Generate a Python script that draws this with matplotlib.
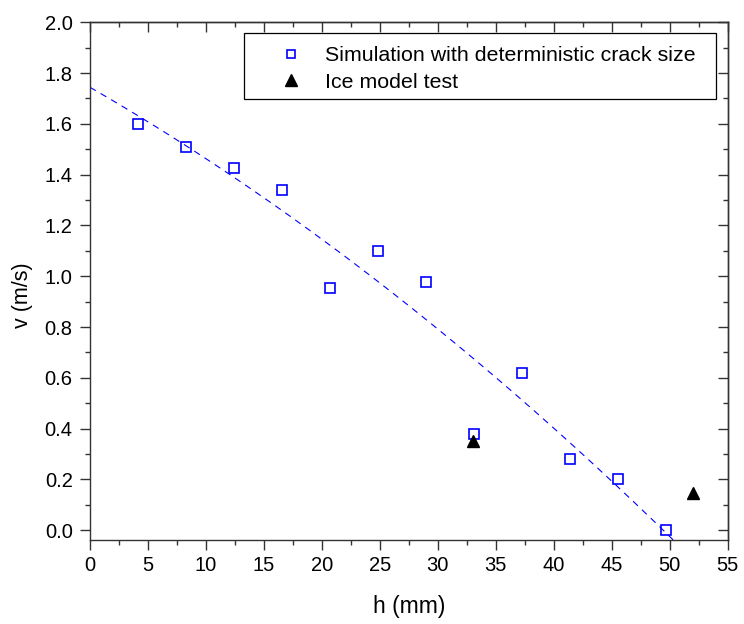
import numpy as np
import matplotlib
matplotlib.use("Agg")
import matplotlib.pyplot as plt
from matplotlib.ticker import MultipleLocator, FormatStrFormatter
from matplotlib.lines import Line2D
from matplotlib.patches import Rectangle

plt.rcParams['font.family'] = ['Liberation Sans', 'DejaVu Sans']

# Simulation with deterministic crack size
sim_h = [4.1, 8.3, 12.45, 16.55, 20.7, 24.85, 29.0, 33.15, 37.3, 41.4, 45.55, 49.7]
sim_v = [1.60, 1.51, 1.428, 1.339, 0.955, 1.10, 0.979, 0.378, 0.618, 0.281, 0.20, 0.0]

# Ice model test
ice_h = [33.0, 52.0]
ice_v = [0.35, 0.148]

# Quadratic trend line coefficients (highest power first)
fit_coeffs = [-0.000182, -0.02628, 1.744]

labels = ['Simulation with deterministic crack size', 'Ice model test']

TICK_FS = 14.5
LEG_FS = 15.4
XLAB_FS = 16.5
YLAB_FS = 15.5
W, H = 744, 624

fig = plt.figure(figsize=(W/100, H/100), dpi=100)
ax = fig.add_axes([90/W, 1 - 540.3/H, (727.7-90)/W, (540.3-22.3)/H])

xs = np.linspace(0, 52, 300)
ax.plot(xs, np.polyval(fit_coeffs, xs), color='#0000ff', lw=0.8,
        dashes=(6, 5), zorder=2)
ax.plot(sim_h, sim_v, ls='none', marker='s', ms=6.5, mfc='none',
        mec='#0000ff', mew=1.2, zorder=3)
ax.plot(ice_h, ice_v, ls='none', marker='^', ms=8.5, color='black', zorder=4)

ax.set_xlim(0, 55)
ax.set_ylim(-0.04, 2.0)
ax.xaxis.set_major_locator(MultipleLocator(5))
ax.xaxis.set_minor_locator(MultipleLocator(2.5))
ax.yaxis.set_major_locator(MultipleLocator(0.2))
ax.yaxis.set_minor_locator(MultipleLocator(0.1))
ax.yaxis.set_major_formatter(FormatStrFormatter('%.1f'))

for s in ax.spines.values():
    s.set_color('#333333')
    s.set_linewidth(1.0)

ax.tick_params(which='both', direction='out', top=False, right=False,
               labelsize=TICK_FS, colors='#333333', labelcolor='black', width=1.0)
ax.tick_params(which='major', length=7)
ax.tick_params(which='minor', length=3.5)
ax.tick_params(axis='x', which='major', pad=4.5)
ax.tick_params(axis='y', which='major', pad=5.5)

# inward ticks on top and right via secondary axes
ax2 = ax.secondary_xaxis('top')
ax2.xaxis.set_major_locator(MultipleLocator(5))
ax2.xaxis.set_minor_locator(MultipleLocator(2.5))
ax2.tick_params(which='both', direction='in', labeltop=False, colors='#333333', width=1.0)
ax2.tick_params(which='major', length=7)
ax2.tick_params(which='minor', length=3.5)
ax3 = ax.secondary_yaxis('right')
ax3.yaxis.set_major_locator(MultipleLocator(0.2))
ax3.yaxis.set_minor_locator(MultipleLocator(0.1))
ax3.tick_params(which='both', direction='in', labelright=False, colors='#333333', width=1.0)
ax3.tick_params(which='major', length=7)
ax3.tick_params(which='minor', length=3.5)
for a in (ax2, ax3):
    for s in a.spines.values():
        s.set_color('#333333')
        s.set_linewidth(1.0)

ax.set_xlabel('h (mm)', fontsize=XLAB_FS)
ax.set_ylabel('v (m/s)', fontsize=YLAB_FS)
ax.xaxis.set_label_coords(0.5, (540.3 - 595.5) / 518.0)
ax.yaxis.set_label_coords((33 - 90) / 637.7, (540.3 - 295) / 518.0)

# legend frame
frame = Rectangle((244.3/W, 1 - 99/H), (716.3-244.3)/W, (99-33.3)/H,
                  transform=fig.transFigure, fill=True, facecolor='white',
                  edgecolor='black', lw=0.9, zorder=5, clip_on=False)
ax.add_patch(frame)

handles = [
    Line2D([], [], ls='none', marker='s', ms=5.2, mfc='none', mec='#0000ff', mew=1.2),
    Line2D([], [], ls='none', marker='^', ms=9, color='black'),
]
leg = ax.legend(handles, labels, loc='upper left',
                bbox_to_anchor=(274/W, 1 - 46.3/H), bbox_transform=fig.transFigure,
                fontsize=LEG_FS, frameon=False, borderpad=0, borderaxespad=0,
                handlelength=1.6, handletextpad=0.8, labelspacing=0.35)
leg.set_zorder(6)

fig.savefig('out.png', dpi=100)
